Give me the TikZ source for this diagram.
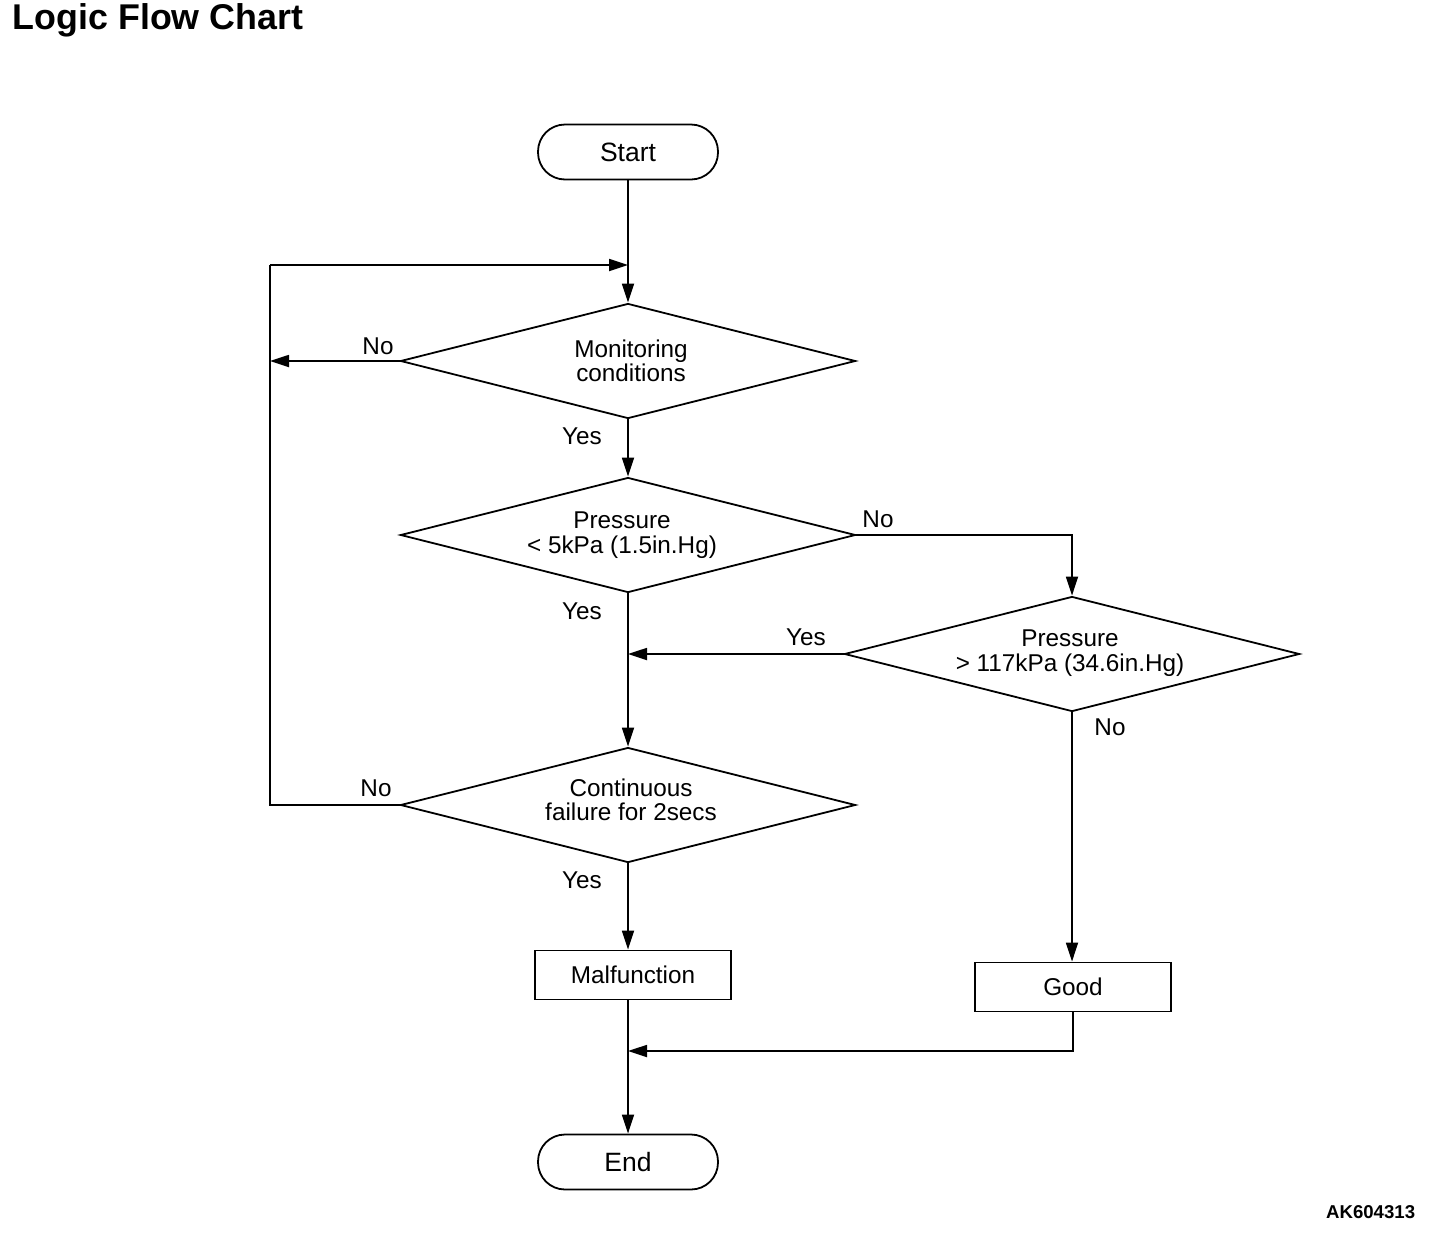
\documentclass[tikz,border=0pt]{standalone}
\usepackage{fontspec}
\setmainfont{Liberation Sans}
\usetikzlibrary{shapes.geometric,arrows.meta}
\begin{document}
\begin{tikzpicture}[x=1pt,y=-1pt,
  line width=1.8pt,
  every node/.style={inner sep=0pt},
  body/.style={font=\fontsize{24.3}{24.5}\selectfont},
  term/.style={draw,rounded corners=27pt,minimum width=180pt,minimum height=55pt,font=\fontsize{26.5}{28}\selectfont},
  dec/.style={draw,diamond,aspect=4,minimum width=455pt,minimum height=115pt,align=center,body},
  dtext/.style={align=center,body},
  proc/.style={draw,rectangle,minimum width=196pt,minimum height=49pt,body},
  lbl/.style={body},
  arr/.style={-{Triangle[length=19pt,width=12pt]}},
]
\useasboundingbox (0,0) rectangle (1456,1248);
\node[anchor=west,font=\fontsize{35.8}{37}\selectfont\bfseries] (title) at (12,20) {Logic Flow Chart};
\node[anchor=east,font=\fontsize{18.6}{20}\selectfont\bfseries] (code) at (1416,1212) {AK604313};

\node[term] (start) at (628,152) {Start};
\node[dec] (d1) at (628,361) {};
\node[dtext] (d1t) at (631,361) {Monitoring\\conditions};
\node[dec] (d2) at (628,535) {};
\node[dtext] (d2t) at (622,535) {Pressure\\{<} 5kPa (1.5in.Hg)};
\node[dec] (d3) at (1072,654) {};
\node[dtext] (d3t) at (1070,653) {Pressure\\{>} 117kPa (34.6in.Hg)};
\node[dec] (d4) at (628,805) {};
\node[dtext] (d4t) at (631,800) {Continuous\\failure for 2secs};
\node[proc] (malf) at (633,975) {Malfunction};
\node[proc] (good) at (1073,987) {Good};
\node[term] (end) at (628,1162) {End};

\coordinate (loopL) at (270,265);
\coordinate (loopM) at (628,265);
\coordinate (d1L) at (270,361);
\coordinate (d3Y) at (628,654);
\coordinate (joinG) at (628,1051);

\draw[arr] (start.south) -- (d1.north);
\draw[arr] (loopL) -- (loopM);
\draw[arr] (d1.west) -- (d1L);
\draw[arr] (d1.south) -- (d2.north);
\draw (d2.south) -- (d3Y);
\draw[arr] (d3Y) -- (d4.north);
\draw[arr] (d2.east) -| (d3.north);
\draw[arr] (d3.west) -- (d3Y);
\draw (d4.west) -| (loopL);
\draw[arr] (d4.south) -- (malf.north -| d4.south);
\draw[arr] (d3.south) -- (good.north -| d3.south);
\draw (malf.south -| d4.south) -- (joinG);
\draw[arr] (joinG) -- (end.north);
\draw[arr] (good.south) |- (joinG);

\node[lbl] (n1) at (378,346) {No};
\node[lbl] (y1) at (582,436) {Yes};
\node[lbl] (n2) at (878,519) {No};
\node[lbl] (y2) at (582,611) {Yes};
\node[lbl] (y3) at (806,637) {Yes};
\node[lbl] (n3) at (1110,727) {No};
\node[lbl] (n4) at (376,788) {No};
\node[lbl] (y4) at (582,880) {Yes};
\end{tikzpicture}
\end{document}
